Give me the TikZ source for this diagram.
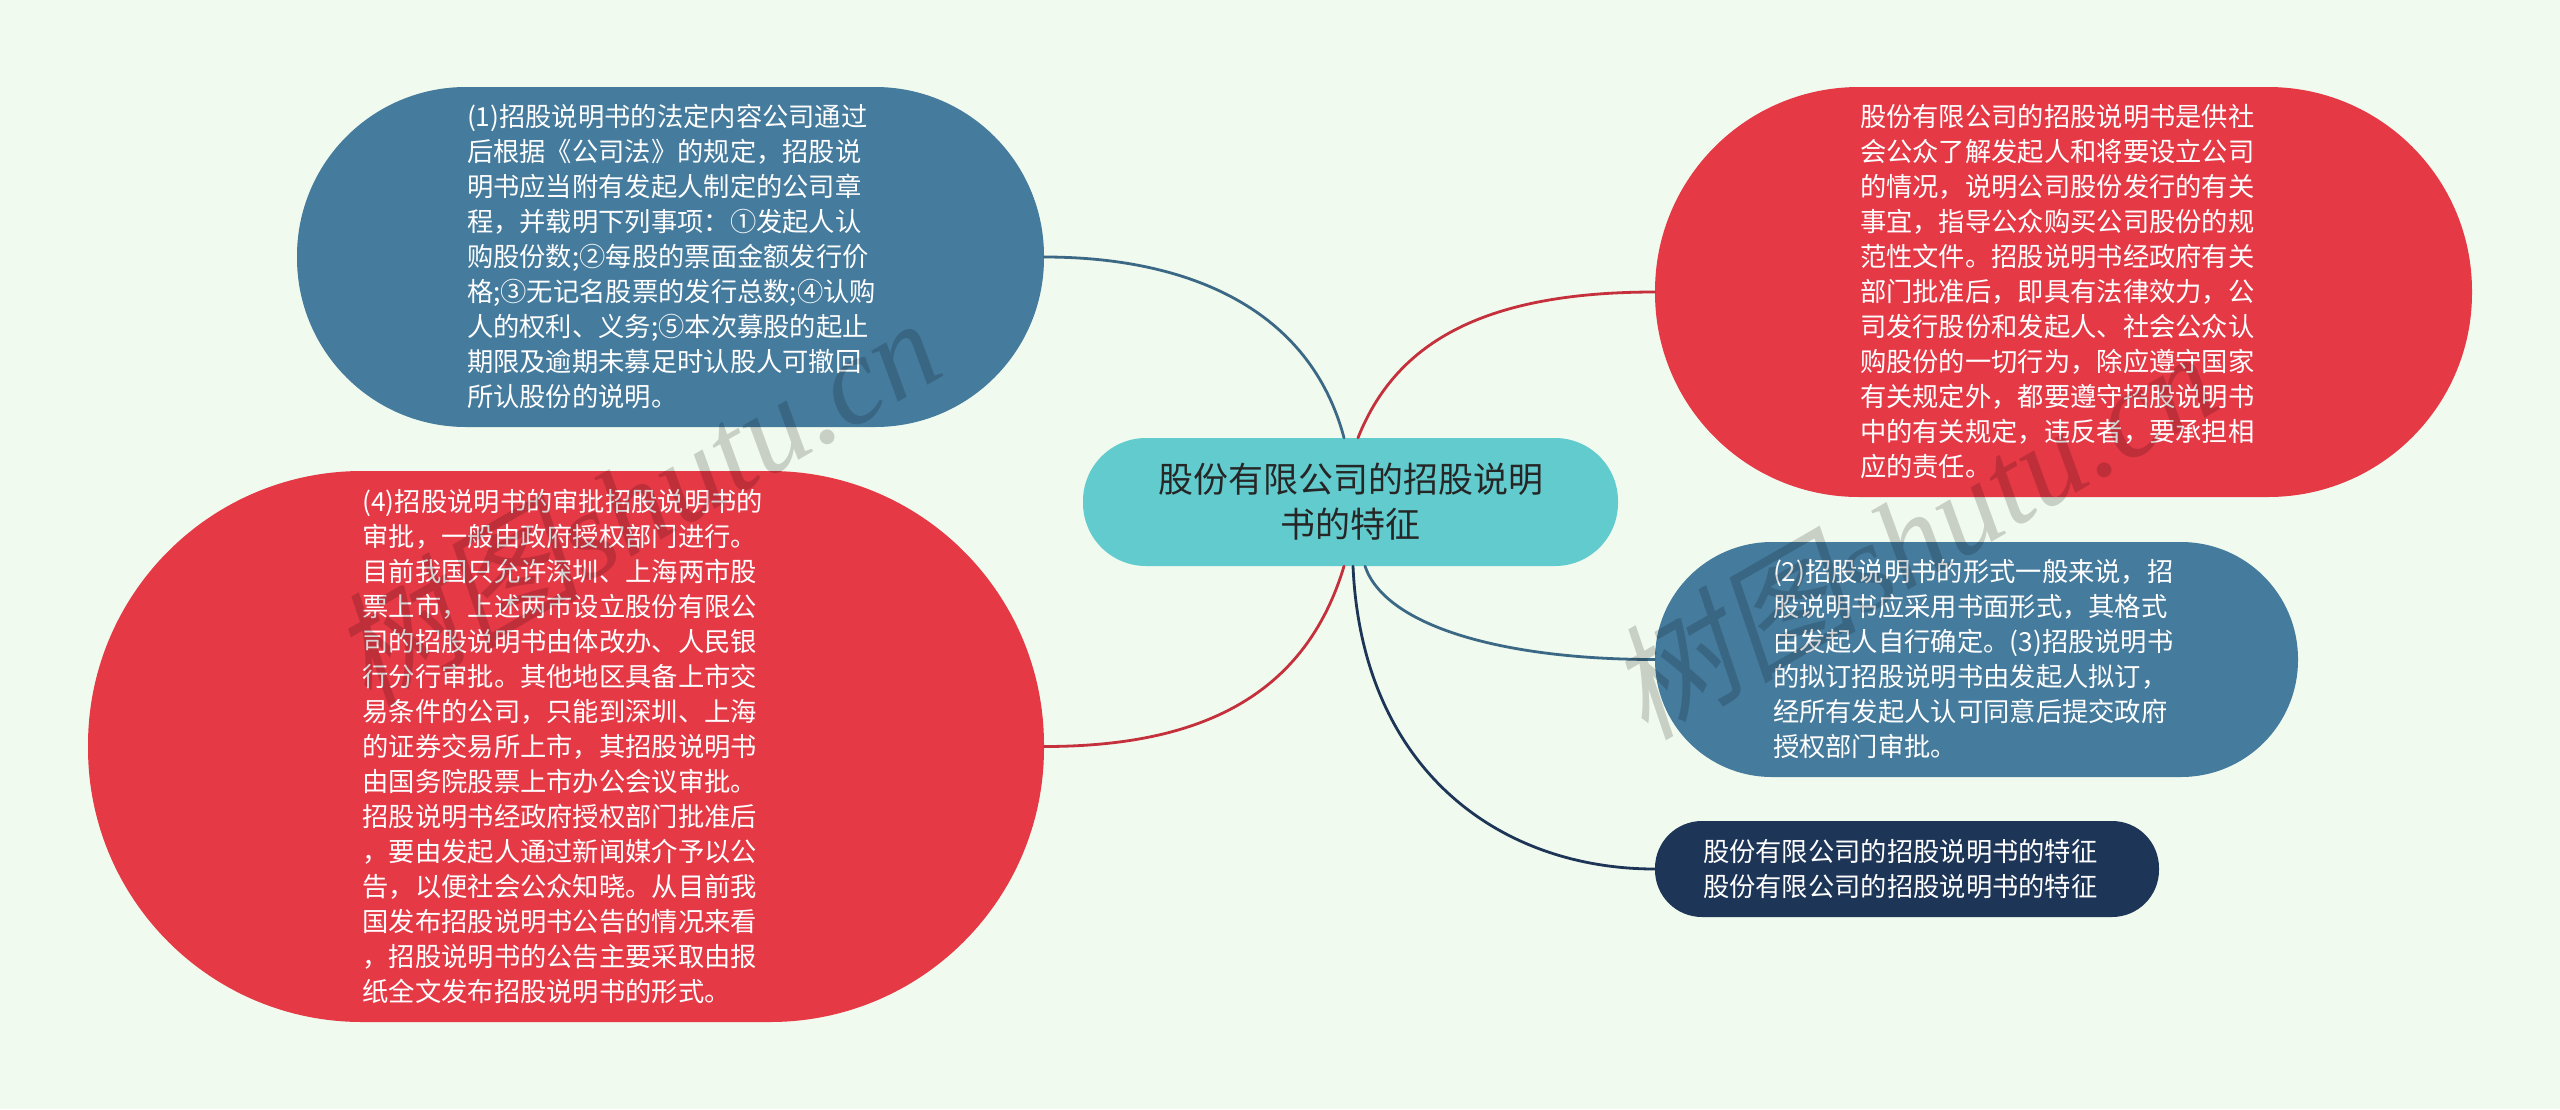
\documentclass[tikz,border=0pt]{standalone}
\usepackage{fontspec}
\setmainfont{Noto Sans CJK SC}
\newfontfamily\wmlatin{Liberation Serif}
\newfontfamily\wmcjk{Noto Sans CJK SC}[FakeSlant=0.2]
\definecolor{bgc}{HTML}{F1FAEE}
\definecolor{teal}{HTML}{62CBCE}
\definecolor{bluec}{HTML}{457B9D}
\definecolor{redc}{HTML}{E63946}
\definecolor{navyc}{HTML}{1D3557}
\tikzset{
  x=1pt,y=1pt,
  bubble/.style={rectangle,inner ysep=0pt,text=white,align=left,font=\fontsize{26.3}{35}\selectfont},
  link/.style={line width=2.8pt,line cap=round},
  wm/.style={text=black,opacity=0.17,rotate=30,font=\fontsize{125}{125}\selectfont}
}
\begin{document}
\begin{tikzpicture}
\fill[bgc] (0,0) rectangle (2560,-1109);
\useasboundingbox (0,0) rectangle (2560,-1109);
\node[bubble,fill=teal,text=black!85,align=center,font=\fontsize{35}{45}\selectfont,rounded corners=63pt,
  minimum width=535pt,minimum height=128pt,text width=395pt,inner xsep=70pt] (ctr) at (1350.5,-502) {股份有限公司的招股说明\\书的特征};
\node[bubble,fill=bluec,rounded corners=169pt,minimum width=747pt,minimum height=340pt,text width=407pt,inner xsep=170pt] (n1) at (670.5,-257) {(1)招股说明书的法定内容公司通过\\后根据《公司法》的规定，招股说\\明书应当附有发起人制定的公司章\\程，并载明下列事项：①发起人认\\购股份数;②每股的票面金额发行价\\格;③无记名股票的发行总数;④认购\\人的权利、义务;⑤本次募股的起止\\期限及逾期未募足时认股人可撤回\\所认股份的说明。};
\node[bubble,fill=redc,rounded corners=274pt,minimum width=956pt,minimum height=551pt,text width=407pt,inner xsep=274.5pt] (n4) at (566,-746.5) {(4)招股说明书的审批招股说明书的\\审批，一般由政府授权部门进行。\\目前我国只允许深圳、上海两市股\\票上市，上述两市设立股份有限公\\司的招股说明书由体改办、人民银\\行分行审批。其他地区具备上市交\\易条件的公司，只能到深圳、上海\\的证券交易所上市，其招股说明书\\由国务院股票上市办公会议审批。\\招股说明书经政府授权部门批准后\\，要由发起人通过新闻媒介予以公\\告，以便社会公众知晓。从目前我\\国发布招股说明书公告的情况来看\\，招股说明书的公告主要采取由报\\纸全文发布招股说明书的形式。};
\node[bubble,fill=redc,rounded corners=204pt,minimum width=817pt,minimum height=410pt,text width=407pt,inner xsep=205pt] (r1) at (2063.5,-292) {股份有限公司的招股说明书是供社\\会公众了解发起人和将要设立公司\\的情况，说明公司股份发行的有关\\事宜，指导公众购买公司股份的规\\范性文件。招股说明书经政府有关\\部门批准后，即具有法律效力，公\\司发行股份和发起人、社会公众认\\购股份的一切行为，除应遵守国家\\有关规定外，都要遵守招股说明书\\中的有关规定，违反者，要承担相\\应的责任。};
\node[bubble,fill=bluec,rounded corners=117pt,minimum width=643pt,minimum height=235pt,text width=407pt,inner xsep=118pt] (r2) at (1976.5,-659.5) {(2)招股说明书的形式一般来说，招\\股说明书应采用书面形式，其格式\\由发起人自行确定。(3)招股说明书\\的拟订招股说明书由发起人拟订，\\经所有发起人认可同意后提交政府\\授权部门审批。};
\node[bubble,fill=navyc,rounded corners=47pt,minimum width=504pt,minimum height=96pt,text width=408pt,inner xsep=48pt] (r3) at (1907,-869) {股份有限公司的招股说明书的特征\\股份有限公司的招股说明书的特征};
\draw[link,bluec!85!black] ([xshift=-6.5pt]ctr.north) .. controls +(-34,128) and +(146,0) .. (n1.east);
\draw[link,redc!85!black] ([xshift=7.5pt]ctr.north) .. controls +(37,93) and +(-175,0) .. (r1.west);
\draw[link,redc!85!black] ([xshift=-6.5pt]ctr.south) .. controls +(-39,-130) and +(156,0) .. (n4.east);
\draw[link,bluec!85!black] ([xshift=14.5pt]ctr.south) .. controls +(20,-59) and +(-155,0) .. (r2.west);
\draw[link,navyc] ([xshift=2.5pt]ctr.south) .. controls +(9,-204) and +(-155,0) .. (r3.west);
\node[wm] (w1) at (635,-500) {\wmcjk 树图\wmlatin\itshape shutu.cn};
\node[wm] (w2) at (1912,-533) {\wmcjk 树图\wmlatin\itshape shutu.cn};
\end{tikzpicture}
\end{document}
